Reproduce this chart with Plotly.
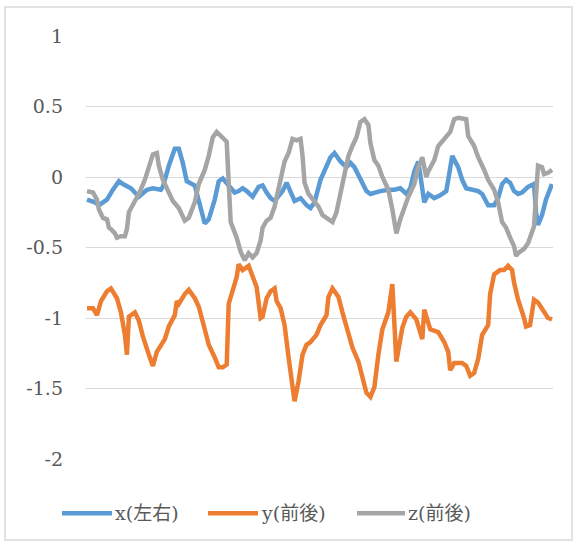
import plotly.graph_objects as go

# Sample index (time step) and readings for each axis of the sensor
x_t = [0,4,6,10,13,16,18,22,26,28,30,33,37,38,41,44,46,48,50,54,56,59,61,64,66,68,71,74,76,78,
       80,83,86,88,90,92,94,98,100,102,104,107,110,112,114,117,119,122,124,127,130,132,134,137,140,142,144,147,151,154,
       157,160,162,164,166,168,169,171,174,177,180,181,183,186,188,190,194,196,198,201,204,206,208,210,212,214,216,218,221,224,
       225,226,228,230,233]
x_vals = [-0.16,-0.18,-0.20,-0.16,-0.09,-0.03,-0.05,-0.08,-0.14,-0.11,-0.09,-0.08,-0.09,-0.07,0.08,0.20,0.20,0.10,-0.03,-0.06,
          -0.18,-0.33,-0.30,-0.16,-0.03,-0.01,-0.06,-0.11,-0.10,-0.08,-0.10,-0.14,-0.07,-0.06,-0.11,-0.15,-0.17,-0.10,-0.04,-0.10,
          -0.17,-0.15,-0.20,-0.22,-0.18,-0.02,0.04,0.14,0.17,0.11,0.07,0.10,0.07,-0.02,-0.10,-0.12,-0.11,-0.10,-0.09,-0.09,
          -0.08,-0.12,-0.08,0.04,0.11,-0.09,-0.18,-0.12,-0.15,-0.13,-0.10,-0.02,0.15,0.07,-0.02,-0.08,-0.09,-0.10,-0.12,-0.20,
          -0.20,-0.15,-0.05,-0.02,-0.04,-0.10,-0.12,-0.11,-0.07,-0.05,-0.25,-0.34,-0.27,-0.16,-0.05]

y_t = [0,3,5,7,10,12,15,17,19,20,21,24,26,28,31,33,35,37,39,41,44,45,46,49,51,54,56,59,61,64,
       66,68,70,71,73,75,76,78,81,83,85,87,88,90,92,94,95,97,99,101,103,104,106,108,110,112,115,117,120,121,
       123,126,128,131,133,136,138,140,142,144,146,148,151,153,155,158,160,162,165,168,169,172,176,179,181,182,184,188,190,192,
       194,196,198,201,202,204,207,209,211,213,214,216,219,220,222,224,226,229,231,233]
y_vals = [-0.93,-0.93,-0.98,-0.88,-0.81,-0.79,-0.86,-0.96,-1.12,-1.26,-0.99,-0.96,-1.02,-1.13,-1.26,-1.34,-1.24,-1.19,-1.15,-1.06,
          -0.98,-0.88,-0.90,-0.83,-0.80,-0.86,-0.92,-1.08,-1.19,-1.28,-1.35,-1.35,-1.33,-0.90,-0.81,-0.71,-0.62,-0.66,-0.63,-0.71,
          -0.78,-1.00,-0.99,-0.86,-0.81,-0.79,-0.88,-0.93,-1.05,-1.28,-1.52,-1.59,-1.45,-1.26,-1.19,-1.17,-1.12,-1.05,-0.98,-0.85,
          -0.79,-0.85,-0.96,-1.10,-1.21,-1.31,-1.42,-1.53,-1.56,-1.49,-1.26,-1.08,-0.96,-0.76,-1.31,-1.07,-0.99,-0.96,-1.01,-1.15,
          -0.94,-1.08,-1.10,-1.17,-1.24,-1.37,-1.32,-1.32,-1.34,-1.41,-1.39,-1.29,-1.12,-1.05,-0.83,-0.69,-0.66,-0.66,-0.63,-0.66,
          -0.75,-0.87,-1.00,-1.06,-1.05,-0.87,-0.89,-0.95,-1.00,-1.01]

z_t = [0,3,5,6,8,10,11,12,14,15,17,19,20,21,24,26,29,31,33,35,36,38,41,43,46,47,49,51,54,56,
       59,61,63,65,67,70,71,72,75,77,79,81,83,85,87,88,90,92,94,96,98,99,101,103,105,107,108,109,111,113,
       116,118,121,123,125,127,129,131,133,135,137,139,141,142,144,146,148,151,153,155,157,159,161,164,166,168,170,171,174,176,
       178,181,182,184,186,190,191,194,196,199,201,204,206,208,210,212,214,215,216,219,221,224,225,226,228,229,231,233]
z_vals = [-0.10,-0.11,-0.16,-0.23,-0.29,-0.30,-0.36,-0.37,-0.40,-0.43,-0.42,-0.42,-0.37,-0.25,-0.17,-0.12,-0.02,0.08,0.16,0.17,
          0.08,-0.02,-0.10,-0.17,-0.22,-0.25,-0.31,-0.29,-0.18,-0.05,0.05,0.15,0.28,0.32,0.29,0.25,-0.04,-0.32,-0.43,-0.53,
          -0.59,-0.54,-0.57,-0.54,-0.45,-0.36,-0.31,-0.29,-0.21,-0.09,0.02,0.11,0.17,0.27,0.26,0.27,0.15,-0.04,-0.12,-0.16,
          -0.21,-0.27,-0.30,-0.32,-0.25,-0.11,0.04,0.15,0.22,0.28,0.39,0.41,0.37,0.24,0.12,0.08,0.00,-0.09,-0.23,-0.40,
          -0.30,-0.21,-0.14,-0.05,0.07,0.14,0.00,0.04,0.12,0.22,0.25,0.30,0.32,0.41,0.42,0.41,0.29,0.22,0.14,0.05,
          -0.02,-0.09,-0.18,-0.32,-0.36,-0.43,-0.49,-0.56,-0.54,-0.51,-0.47,-0.35,-0.14,0.08,0.07,0.02,0.03,0.05]

series_names = ["x(左右)", "y(前後)", "z(前後)"]
series_colors = ["#5B9BD5", "#ED7D31", "#A5A5A5"]

y_tickvals = [1, 0.5, 0, -0.5, -1, -1.5, -2]
y_ticktext = ["1", "0.5", "0", "-0.5", "-1", "-1.5", "-2"]

FONT = "DejaVu Serif, Noto Sans CJK JP, serif"
TEXT_COLOR = "#595959"

fig = go.Figure()
for t, v, name, color in zip([x_t, y_t, z_t], [x_vals, y_vals, z_vals], series_names, series_colors):
    fig.add_trace(go.Scatter(x=t, y=v, mode="lines", name=name,
                             line=dict(color=color, width=4.5), showlegend=False))

# Legend drawn below the plot: a line sample followed by the series name
legend_lines = [(-0.0514, 0.0557), (0.2612, 0.3683), (0.5803, 0.6831)]
legend_y = -0.128
shapes = []
annotations = []
for (x0, x1), name, color in zip(legend_lines, series_names, series_colors):
    shapes.append(dict(type="line", xref="paper", yref="paper", x0=x0, x1=x1,
                       y0=legend_y, y1=legend_y, line=dict(color=color, width=4.5)))
    annotations.append(dict(xref="paper", yref="paper", x=x1 + 0.002, y=legend_y,
                            xanchor="left", yanchor="middle", text=name, showarrow=False,
                            font=dict(family=FONT, size=19, color=TEXT_COLOR)))

# Outer chart frame
shapes.append(dict(type="rect", xref="paper", yref="paper", x0=-0.1734, x1=1.0407,
                   y0=-0.1915, y1=1.0686, line=dict(color="#D9D9D9", width=1.5), layer="below"))

fig.update_layout(
    width=576, height=547,
    margin=dict(l=86, r=23, t=36, b=88),
    paper_bgcolor="white", plot_bgcolor="white",
    xaxis=dict(range=[-0.5, 233.5], showgrid=False, showticklabels=False,
               zeroline=False, showline=False, ticks=""),
    yaxis=dict(range=[-2, 1], tickvals=y_tickvals, ticktext=y_ticktext,
               showgrid=True, gridcolor="#D9D9D9", gridwidth=1, zeroline=False,
               showline=False, ticks="", ticklabelstandoff=22,
               tickfont=dict(family=FONT, size=19, color=TEXT_COLOR)),
    shapes=shapes, annotations=annotations,
    showlegend=False,
)

fig.write_html("out.html")
